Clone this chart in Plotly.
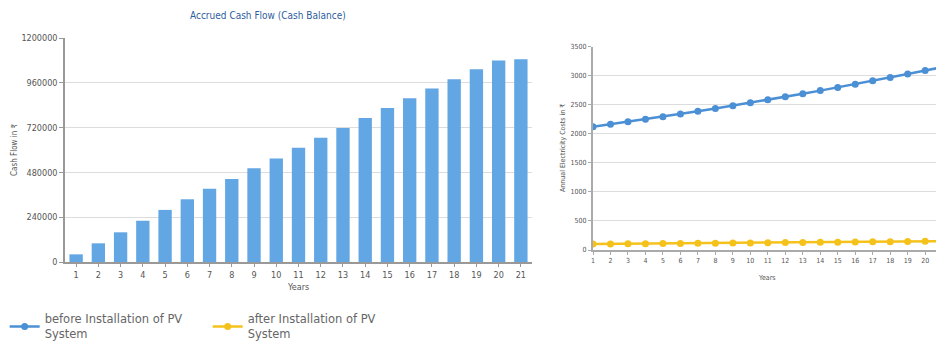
import plotly.graph_objects as go

years_bar = list(range(1, 22))
cash_flow = [41000, 100000, 159000, 221000, 279000, 336000, 393000, 445000, 502000, 555000,
             612000, 666000, 718000, 771000, 825000, 877000, 930000, 979000, 1032000, 1080000, 1086000]
cash_ticks = [0, 240000, 480000, 720000, 960000, 1200000]

years_line = list(range(1, 22))
before_pv = [2122, 2165, 2207, 2251, 2296, 2342, 2389, 2436, 2485, 2535, 2586, 2638, 2690,
             2744, 2799, 2855, 2912, 2970, 3030, 3089, 3150]
after_pv = [103, 105, 107, 109, 111, 113, 115, 117, 120, 122, 125, 127, 130, 132, 135,
            138, 140, 143, 146, 150, 153]
cost_ticks = [0, 500, 1000, 1500, 2000, 2500, 3000, 3500]

W, H = 936, 344
def fx(px): return px / W
def fy(py): return (H - py) / H

fig = go.Figure()
fig.add_trace(go.Bar(x=years_bar, y=cash_flow, marker=dict(color='#62a6e4', line=dict(width=0)),
                     width=0.6, showlegend=False, xaxis='x', yaxis='y'))
fig.add_trace(go.Scatter(x=years_line, y=before_pv, mode='lines+markers',
                         name='before Installation of PV<br>System',
                         line=dict(color='#4b8fd5', width=2.5), marker=dict(size=7, color='#4b8fd5'),
                         xaxis='x2', yaxis='y2'))
fig.add_trace(go.Scatter(x=years_line, y=after_pv, mode='lines+markers',
                         name='after Installation of PV<br>System',
                         line=dict(color='#f5c21b', width=2.5), marker=dict(size=7, color='#f5c21b'),
                         xaxis='x2', yaxis='y2'))

cf = 'DejaVu Sans Condensed, Liberation Sans Narrow, Arial'
tickfont = dict(family=cf, size=9, color='#555')
small = dict(family=cf, size=7, color='#555')

def ann(text, x, y, font, angle=0):
    return dict(text=text, x=fx(x), y=fy(y), xref='paper', yref='paper', textangle=angle,
                xanchor='center', yanchor='middle', showarrow=False, font=font)

fig.update_layout(
    width=W, height=H, margin=dict(l=0, r=0, t=0, b=0, autoexpand=False),
    paper_bgcolor='white', plot_bgcolor='white',
    xaxis=dict(domain=[fx(65), fx(532)], range=[0.5, 21.5], tickmode='array', tickvals=years_bar,
               showgrid=False, showline=True, linecolor='#999', linewidth=1.5,
               ticks='outside', ticklen=3, tickcolor='#999', tickfont=tickfont, zeroline=False),
    yaxis=dict(domain=[fy(262), fy(38)], range=[0, 1200000], tickmode='array', tickvals=cash_ticks,
               ticktext=[str(v) for v in cash_ticks],
               showgrid=True, gridcolor='#dcdcdc', showline=True, linecolor='#999', linewidth=1.5,
               ticks='outside', ticklen=4, tickcolor='#999', tickfont=tickfont, zeroline=False),
    xaxis2=dict(domain=[fx(593), 1.0], range=[1, 20.62], tickmode='array', tickvals=years_line[:20],
                anchor='y2', showgrid=False, showline=True, linecolor='#aaa', linewidth=2,
                ticks='outside', ticklen=3, tickcolor='#aaa', tickfont=small, zeroline=False),
    yaxis2=dict(domain=[fy(250), fy(46.7)], range=[0, 3500], tickmode='array', tickvals=cost_ticks,
                anchor='x2', showgrid=True, gridcolor='#dcdcdc', showline=True, linecolor='#aaa', linewidth=2,
                ticks='outside', ticklen=3, tickcolor='#aaa', tickfont=small, zeroline=False),
    legend=dict(orientation='h', x=0.005, y=fy(305), xanchor='left', yanchor='top',
                font=dict(family='DejaVu Sans, Verdana', size=11.5, color='#666'),
                entrywidth=158, entrywidthmode='pixels', itemwidth=30,
                tracegroupgap=0, bgcolor='rgba(0,0,0,0)'),
    annotations=[
        ann('Accrued Cash Flow (Cash Balance)', 268, 16, dict(family=cf, size=10, color='#2f5d9e')),
        ann('Cash Flow in ₹', 14, 150, dict(family=cf, size=8, color='#555'), -90),
        ann('Years', 298, 287, dict(family=cf, size=9, color='#555')),
        ann('Annual Electricity Costs in ₹', 563, 148, small, -90),
        ann('Years', 767, 278, small),
    ],
)
fig.write_html('out.html')
